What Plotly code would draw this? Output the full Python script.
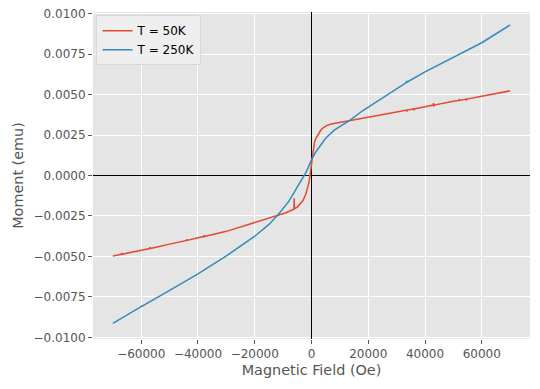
import plotly.graph_objects as go

# T = 50K data (field in Oe, moment in emu)
field_50k = [-70000, -67000, -66900, -66800, -63000, -60000, -57000, -56900, -56800,
             -50000, -44000, -43900, -43800, -40000, -38000, -37900, -37800, -30000,
             -20000, -16000, -13000, -11000, -9000, -7500, -6200, -6100, -6000, -5000,
             -4000, -3000, -2000, -1500, -1000, -600, -300, 0, 300, 600, 1000, 1500,
             2300, 3200, 4200, 5300, 7000, 9500, 13500, 20000, 30000, 33500, 33600,
             33700, 36000, 36100, 36200, 40000, 42900, 43000, 43100, 43200, 50000,
             52000, 52100, 52200, 54500, 54600, 54700, 60000, 70000]
moment_50k = [-0.00497, -0.00487, -0.00478, -0.00487, -0.00472, -0.00462, -0.00451, -0.00442,
              -0.00451, -0.00424, -0.00401, -0.00393, -0.00401, -0.00385, -0.00377, -0.00368,
              -0.00377, -0.00345, -0.00290, -0.00272, -0.00256, -0.00244, -0.00230, -0.00218,
              -0.00208, -0.00140, -0.00205, -0.00195, -0.00178, -0.00155, -0.00115, -0.00085,
              -0.00050, -0.00010, 0.00030, 0.00085, 0.00130, 0.00165, 0.00200, 0.00228,
              0.00255, 0.00278, 0.00296, 0.00308, 0.00318, 0.00326, 0.00336, 0.00356,
              0.00392, 0.00404, 0.00394, 0.00404, 0.00411, 0.00403, 0.00411, 0.00425,
              0.00435, 0.00447, 0.00425, 0.00435, 0.00458, 0.00464, 0.00474, 0.00464,
              0.00472, 0.00462, 0.00472, 0.00490, 0.00523]

# T = 250K data
field_250k = [-70000, -65000, -60000, -59900, -59800, -50000, -40000, -30000, -25000,
              -20000, -15000, -11800, -8000, -5300, -3500, -2000, -1000, 0, 1500, 2900,
              5000, 8000, 13500, 18000, 24100, 29000, 33400, 33500, 33600, 40000, 48800,
              60000, 70000]
moment_250k = [-0.00913, -0.00860, -0.00810, -0.00802, -0.00809, -0.00710, -0.00608,
               -0.00497, -0.00438, -0.00375, -0.00302, -0.00242, -0.00160, -0.00080,
               -0.00030, 0.00018, 0.00055, 0.00099, 0.00145, 0.00182, 0.00230, 0.00280,
               0.00340, 0.00400, 0.00470, 0.00527, 0.00574, 0.00584, 0.00576, 0.00640,
               0.00720, 0.00820, 0.00930]

x_ticks = [-60000, -40000, -20000, 0, 20000, 40000, 60000]
y_ticks = [-0.0100, -0.0075, -0.0050, -0.0025, 0.0000, 0.0025, 0.0050, 0.0075, 0.0100]

fig = go.Figure()
fig.add_trace(go.Scatter(x=field_50k, y=moment_50k, mode="lines", name="T = 50K",
                         line=dict(color="#E24A33", width=1.5)))
fig.add_trace(go.Scatter(x=field_250k, y=moment_250k, mode="lines", name="T = 250K",
                         line=dict(color="#348ABD", width=1.5)))

axis_common = dict(
    showgrid=True, gridcolor="white", gridwidth=1,
    zeroline=True, zerolinecolor="black", zerolinewidth=1.2,
    ticks="outside", ticklen=4, tickcolor="#555555", tickwidth=1,
    tickfont=dict(family="DejaVu Sans", size=12, color="#555555"),
    showline=False, automargin=False, ticklabeloverflow="allow",
)

# page body has an 8px default margin; size the figure so it fits the window
fig.update_layout(
    width=532, height=381,
    margin=dict(l=85, r=10, t=4, b=50),
    paper_bgcolor="white", plot_bgcolor="#E5E5E5",
    font=dict(family="DejaVu Sans", size=12, color="#555555"),
    xaxis=dict(range=[-77000, 77000], tickvals=x_ticks, tickformat="d",
               title=dict(text="Magnetic Field (Oe)", font=dict(size=14.4, color="#555555"), standoff=4),
               **axis_common),
    yaxis=dict(range=[-0.0101, 0.0101], tickvals=y_ticks, tickformat=".4f",
               title=dict(text="Moment (emu)", font=dict(size=14.4, color="#555555"), standoff=6),
               **axis_common),
    legend=dict(x=0.008, y=0.99, xanchor="left", yanchor="top",
                bgcolor="rgba(238,238,238,0.9)", bordercolor="#D8D8D8", borderwidth=1,
                tracegroupgap=0, itemwidth=30,
                font=dict(family="DejaVu Sans", size=12, color="black")),
    showlegend=True,
)

fig.write_html("out.html")
